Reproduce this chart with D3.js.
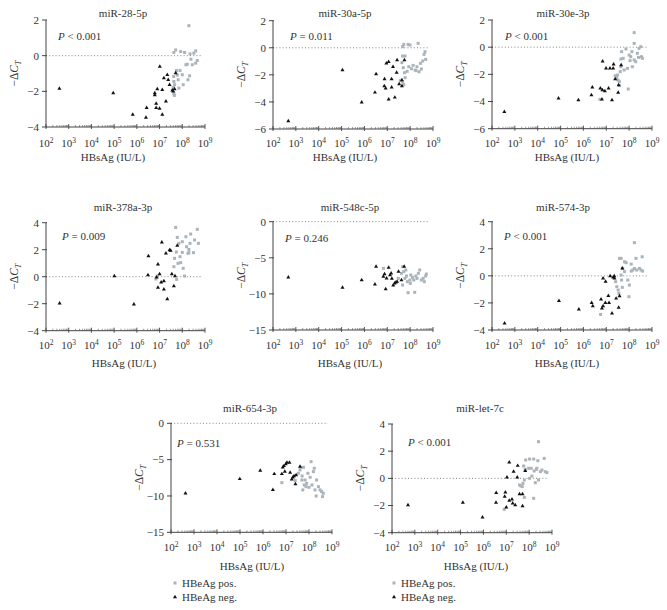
<!DOCTYPE html>
<html><head><meta charset="utf-8">
<script src="https://cdn.jsdelivr.net/npm/d3@7"></script>
<style>
body{margin:0;background:#fff;}
text{font-family:"Liberation Serif",Tinos,"Times New Roman",serif;fill:#333;}
</style>
</head><body>
<svg id="chart" width="667" height="610"></svg>
<script>
// ---------- DATA ----------
const titles = ["miR-28-5p","miR-30a-5p","miR-30e-3p","miR-378a-3p","miR-548c-5p","miR-574-3p","miR-654-3p","miR-let-7c"];
const pTexts = ["< 0.001","= 0.011","< 0.001","= 0.009","= 0.246","< 0.001","= 0.531","< 0.001"];
const yDomains = [[-4,2],[-6,2],[-6,2],[-4,4],[-15,0],[-4,4],[-15,0],[-4,4]];
const yTicks = [[-4,-2,0,2],[-6,-4,-2,0,2],[-6,-4,-2,0,2],[-4,-2,0,2,4],[-15,-10,-5,0],[-4,-2,0,2,4],[-15,-10,-5,0],[-4,-2,0,2,4]];
const xTickExps = [2,3,4,5,6,7,8,9];
const xLabel = "HBsAg (IU/L)";
const legendLabels = ["HBeAg pos.","HBeAg neg."];

// points: [log10 HBsAg (IU/L), -ΔCT]
const miR28_neg = [[2.59,-1.85],[4.96,-2.10],[5.82,-3.31],[6.40,-3.47],[6.43,-2.93],[6.79,-2.10],[6.79,-2.21],[6.90,-1.87],[6.85,-2.69],[6.85,-2.93],[7.00,-2.97],[7.01,-0.61],[7.12,-3.31],[7.12,-1.91],[7.19,-1.26],[7.28,-2.56],[7.34,-1.07],[7.38,-1.35],[7.44,-1.63],[7.56,-1.95],[7.60,-2.00],[7.71,-0.98],[7.66,-1.87]];
const miR28_pos = [[7.62,-1.17],[7.63,-1.45],[7.60,-1.78],[7.63,-2.13],[7.65,-2.23],[7.66,-1.63],[7.71,0.32],[7.63,0.18],[7.74,-0.83],[7.78,-1.09],[7.82,-1.35],[7.85,-1.82],[7.93,0.23],[7.90,-0.83],[8.00,-1.07],[8.04,-1.63],[8.10,0.18],[8.16,-0.51],[8.22,-0.48],[8.25,-1.35],[8.32,-1.13],[8.29,1.68],[8.34,0.10],[8.38,-0.20],[8.44,-0.51],[8.51,0.14],[8.59,0.27],[8.59,-0.42],[8.66,-0.27]];

const miR30a_neg = [[2.67,-5.41],[5.04,-1.65],[5.88,-4.03],[6.46,-3.30],[6.51,-1.94],[6.88,-2.31],[6.87,-2.83],[6.93,-3.00],[6.96,-1.15],[7.06,-1.03],[7.06,-3.81],[7.19,-2.31],[7.19,-2.93],[7.25,-1.40],[7.33,-3.67],[7.41,-1.84],[7.43,-0.91],[7.52,-2.68],[7.64,-2.83],[7.64,-2.38],[7.75,-0.91]];
const miR30a_pos = [[7.67,0.08],[7.72,0.25],[7.91,0.25],[7.99,0.20],[8.35,0.33],[7.67,-0.61],[7.78,-0.61],[7.64,-1.10],[7.70,-1.47],[7.75,-1.84],[7.78,-2.21],[7.67,-2.53],[7.72,-2.73],[7.57,-2.43],[7.94,-1.40],[8.06,-1.55],[8.13,-1.30],[8.22,-1.65],[8.30,-1.40],[8.39,-1.77],[8.45,-1.15],[8.55,-0.98],[8.61,-0.49],[8.65,-0.29],[8.68,-0.86],[8.49,-1.57],[7.87,-1.74],[8.26,-1.69]];

const miR30e_neg = [[2.54,-4.75],[4.91,-3.77],[5.78,-3.89],[6.35,-3.52],[6.39,-2.96],[6.74,-3.03],[6.84,-1.04],[6.83,-3.15],[6.81,-3.84],[6.94,-3.23],[6.99,-1.56],[7.10,-3.03],[7.16,-1.56],[7.25,-3.89],[7.30,-1.56],[7.32,-1.26],[7.39,-2.34],[7.52,-3.35],[7.54,-2.79],[7.65,-1.31]];
const miR30e_pos = [[6.72,-3.84],[7.39,-2.10],[7.45,-2.22],[7.51,-2.42],[7.57,-2.54],[7.57,-2.83],[7.49,-2.05],[7.61,-1.80],[7.64,-1.44],[7.64,-0.87],[7.67,-0.33],[7.74,-0.82],[7.78,-1.68],[7.86,-0.13],[7.93,-1.56],[7.96,-3.08],[8.00,-0.58],[8.04,-0.99],[8.07,-0.70],[8.12,-0.33],[8.14,-1.44],[8.22,0.28],[8.22,1.07],[8.22,-0.94],[8.29,-1.07],[8.41,-0.75],[8.43,-0.09],[8.51,0.04],[8.54,-0.70],[8.58,-0.82],[8.36,-0.45]];

const miR378a_neg = [[2.60,-1.98],[5.01,0.05],[5.87,-2.05],[6.49,0.12],[6.51,1.53],[6.87,-0.05],[6.93,0.91],[6.93,-0.81],[7.00,0.20],[7.07,-0.42],[7.10,2.54],[7.19,-0.32],[7.19,-0.94],[7.28,1.73],[7.34,-1.65],[7.44,1.98],[7.49,1.93],[7.54,0.20],[7.63,-0.69],[7.68,0.05],[7.78,2.30]];
const miR378a_pos = [[6.84,-0.17],[6.90,0.05],[7.71,3.65],[7.78,2.91],[7.74,1.83],[7.66,1.36],[7.63,0.74],[7.75,-0.20],[7.81,0.99],[7.85,2.47],[7.90,1.48],[7.93,1.04],[8.00,2.59],[8.00,1.80],[8.04,0.62],[8.10,0.05],[8.16,2.96],[8.19,2.22],[8.29,2.02],[8.29,1.78],[8.37,3.16],[8.34,2.47],[8.49,1.78],[8.54,2.72],[8.66,3.51],[8.71,2.47],[8.25,1.73]];

const miR548c_neg = [[2.67,-7.71],[5.04,-9.14],[5.88,-8.08],[6.46,-8.68],[6.51,-6.23],[6.83,-7.61],[6.88,-7.25],[6.93,-9.32],[6.97,-7.85],[7.06,-6.37],[7.12,-7.38],[7.17,-7.15],[7.20,-7.89],[7.26,-8.81],[7.32,-8.54],[7.38,-8.40],[7.43,-8.31],[7.49,-6.92],[7.62,-8.08],[7.74,-6.23]];
const miR548c_pos = [[6.83,-6.46],[7.48,-7.85],[7.62,-7.15],[7.67,-6.23],[7.72,-6.92],[7.77,-7.85],[7.84,-7.52],[7.88,-8.31],[7.91,-9.83],[7.99,-8.08],[8.03,-7.38],[8.10,-7.71],[8.16,-8.08],[8.20,-9.78],[8.25,-7.52],[8.30,-7.85],[8.36,-7.15],[8.42,-6.69],[8.49,-8.08],[8.57,-7.85],[8.62,-8.31],[8.68,-7.52],[8.71,-7.25],[8.01,-8.54],[7.67,-8.77],[7.81,-6.69]];

const miR574_neg = [[2.55,-3.51],[4.93,-1.84],[5.80,-2.48],[6.36,-1.99],[6.41,-2.23],[6.77,-1.74],[6.81,-2.40],[6.86,-2.23],[6.86,-0.19],[6.96,-1.99],[6.97,-0.43],[7.09,-1.47],[7.12,-1.99],[7.17,-0.01],[7.25,-2.77],[7.30,-0.11],[7.35,-0.01],[7.36,-0.19],[7.43,-1.67],[7.54,-2.35],[7.58,-1.49],[7.70,0.55]];
const miR574_pos = [[6.75,-2.85],[7.41,-0.43],[7.46,-0.80],[7.52,-1.05],[7.55,-1.30],[7.58,1.29],[7.65,1.29],[7.65,0.06],[7.67,-0.31],[7.72,0.55],[7.80,1.04],[7.80,0.31],[7.87,0.97],[7.94,-0.31],[7.99,-1.54],[8.01,-0.68],[8.09,0.87],[8.09,0.35],[8.16,0.43],[8.23,2.45],[8.23,0.55],[8.30,1.29],[8.33,0.43],[8.45,0.55],[8.52,0.43],[8.57,1.41],[8.59,0.35],[7.70,-0.85]];

const miR654_neg = [[2.63,-9.63],[4.99,-7.66],[5.88,-6.51],[6.43,-9.17],[6.49,-6.97],[6.82,-6.97],[6.86,-6.06],[6.91,-5.87],[6.95,-6.65],[6.99,-5.60],[7.04,-5.41],[7.15,-5.41],[7.18,-6.79],[7.25,-7.71],[7.30,-7.43],[7.35,-7.25],[7.44,-7.11],[7.41,-8.35],[7.61,-5.96]];
const miR654_pos = [[6.82,-8.17],[7.40,-7.89],[7.54,-6.88],[7.61,-6.42],[7.64,-6.06],[7.70,-7.25],[7.73,-9.17],[7.76,-6.06],[7.79,-8.49],[7.83,-7.80],[7.90,-8.26],[7.95,-6.88],[8.00,-8.81],[8.05,-7.43],[8.09,-5.28],[8.13,-8.49],[8.19,-6.65],[8.23,-6.19],[8.26,-9.17],[8.31,-10.0],[8.33,-7.80],[8.41,-8.72],[8.48,-9.17],[8.55,-9.40],[8.59,-10.09],[8.62,-9.63],[7.69,-7.80],[7.87,-8.72]];

const let7c_neg = [[2.70,-1.96],[5.10,-1.79],[5.96,-2.87],[6.56,-1.06],[6.55,-1.79],[6.93,-1.35],[6.96,-1.03],[7.00,-2.13],[7.03,0.07],[7.13,1.18],[7.13,-1.64],[7.25,-1.55],[7.28,-1.84],[7.32,0.49],[7.39,-1.96],[7.48,0.07],[7.50,0.93],[7.58,-1.15],[7.71,-1.15],[7.71,-2.04],[7.83,0.56]];
const let7c_pos = [[6.91,-2.28],[7.58,-0.49],[7.64,-0.56],[7.70,-0.61],[7.73,-0.37],[7.79,-0.12],[7.79,-1.40],[7.76,0.91],[7.83,0.66],[7.85,1.35],[7.98,0.74],[8.02,1.42],[8.02,0.00],[8.12,0.17],[8.20,1.42],[8.22,0.54],[8.27,-0.32],[8.31,0.66],[8.34,0.74],[8.38,1.30],[8.20,-1.47],[8.41,-0.12],[8.41,2.70],[8.49,0.49],[8.56,0.61],[8.66,1.47],[8.71,0.49],[8.78,0.42],[8.09,0.74]];

const posSeries = [miR28_pos,miR30a_pos,miR30e_pos,miR378a_pos,miR548c_pos,miR574_pos,miR654_pos,let7c_pos];
const negSeries = [miR28_neg,miR30a_neg,miR30e_neg,miR378a_neg,miR548c_neg,miR574_neg,miR654_neg,let7c_neg];

// ---------- LAYOUT ----------
const layout = [
  {L:46,  T:20,    W:159, H:107,   tx:123, xl:113, px:12, py:20, ty:17,  xb:161, tb:147},
  {L:273, T:20.7,  W:160, H:108.3, tx:345, xl:345, px:17, py:19, ty:17,  xb:161, tb:147},
  {L:492, T:20,    W:160, H:108.7, tx:563, xl:567, px:13, py:20, ty:17,  xb:161, tb:147},
  {L:46,  T:222.7, W:159, H:108,   tx:123, xl:124, px:16, py:17, ty:211, xb:367, tb:349},
  {L:273, T:221.7, W:160, H:108.3, tx:350, xl:350, px:12, py:20, ty:211, xb:367, tb:349},
  {L:492, T:221.7, W:160, H:108.3, tx:563, xl:567, px:12, py:18, ty:211, xb:367, tb:349},
  {L:171, T:423.3, W:161, H:109,   tx:250, xl:252, px:6,  py:24, ty:412, xb:570, tb:551},
  {L:392, T:424,   W:160, H:108.7, tx:480, xl:476, px:16, py:22, ty:412, xb:570, tb:551}
];
const posColor = "#aab4bb";
const negColor = "#111";
const fmt = v => v < 0 ? "\u2212" + Math.abs(v) : String(v);

const svg = d3.select("#chart");
const tri = d3.symbol().type(d3.symbolTriangle).size(7);

titles.forEach((title, i) => {
  const o = layout[i];
  const x = d3.scaleLog().domain([1e2, 1e9]).range([o.L, o.L + o.W]);
  const y = d3.scaleLinear().domain(yDomains[i]).range([o.T + o.H, o.T]);
  const g = svg.append("g");

  // dotted zero line
  g.append("line").attr("x1", o.L).attr("x2", o.L + o.W - 4)
    .attr("y1", y(0)).attr("y2", y(0))
    .attr("stroke", "#777").attr("stroke-width", 0.9).attr("stroke-dasharray", "1,2.2");

  // y axis
  g.append("line").attr("x1", o.L).attr("x2", o.L).attr("y1", o.T).attr("y2", o.T + o.H)
    .attr("stroke", "#444").attr("stroke-width", 1);
  yTicks[i].forEach(v => {
    g.append("line").attr("x1", o.L - 4).attr("x2", o.L + 1).attr("y1", y(v)).attr("y2", y(v))
      .attr("stroke", "#444").attr("stroke-width", 1);
    g.append("text").attr("x", o.L - 7).attr("y", y(v)).attr("dy", "0.35em")
      .attr("text-anchor", "end").attr("font-size", 11).text(fmt(v));
  });

  // x axis
  g.append("line").attr("x1", o.L).attr("x2", o.L + o.W).attr("y1", o.T + o.H).attr("y2", o.T + o.H)
    .attr("stroke", "#444").attr("stroke-width", 1);
  const minor = [];
  for (let e = 2; e < 9; e++) for (let m = 2; m <= 9; m++) minor.push(m * Math.pow(10, e));
  minor.forEach(v => {
    g.append("line").attr("x1", x(v)).attr("x2", x(v)).attr("y1", o.T + o.H).attr("y2", o.T + o.H - 2)
      .attr("stroke", "#555").attr("stroke-width", 0.6);
  });
  xTickExps.forEach(e => {
    const v = Math.pow(10, e);
    g.append("line").attr("x1", x(v)).attr("x2", x(v)).attr("y1", o.T + o.H - 3).attr("y2", o.T + o.H + 2)
      .attr("stroke", "#444").attr("stroke-width", 0.9);
    const t = g.append("text").attr("x", x(v)).attr("y", o.tb).attr("text-anchor", "middle").attr("font-size", 11);
    t.append("tspan").text("10");
    t.append("tspan").attr("dy", -4.5).attr("font-size", 7.5).text(String(e));
  });

  // titles & labels
  g.append("text").attr("x", o.tx).attr("y", o.ty).attr("text-anchor", "middle").attr("font-size", 11).text(title);
  g.append("text").attr("x", o.xl).attr("y", o.xb).attr("text-anchor", "middle").attr("font-size", 11).text(xLabel);
  const yl = g.append("text").attr("transform", `translate(${o.L - 28},${o.T + o.H / 2}) rotate(-90)`)
    .attr("text-anchor", "middle").attr("font-size", 11.5);
  yl.append("tspan").text("\u2212\u0394");
  yl.append("tspan").attr("font-style", "italic").text("C");
  yl.append("tspan").attr("font-style", "italic").attr("font-size", 8).attr("dy", 3).text("T");

  const pt = g.append("text").attr("x", o.L + o.px).attr("y", o.T + o.py).attr("font-size", 11);
  pt.append("tspan").attr("font-style", "italic").text("P");
  pt.append("tspan").text(" " + pTexts[i]);

  // points
  g.selectAll("rect.pos").data(posSeries[i]).enter().append("rect")
    .attr("x", d => x(Math.pow(10, d[0])) - 1.5).attr("y", d => y(d[1]) - 1.5)
    .attr("width", 3).attr("height", 3).attr("fill", posColor);
  g.selectAll("path.neg").data(negSeries[i]).enter().append("path")
    .attr("d", tri).attr("transform", d => `translate(${x(Math.pow(10, d[0]))},${y(d[1])})`)
    .attr("fill", negColor);
});

// legends
[{x:175, t:182}, {x:394, t:401}].forEach(p => {
  svg.append("rect").attr("x", p.x - 1.5).attr("y", 583 - 1.5).attr("width", 3).attr("height", 3).attr("fill", posColor);
  svg.append("text").attr("x", p.t).attr("y", 587).attr("font-size", 11).text(legendLabels[0]);
  svg.append("path").attr("d", tri).attr("transform", `translate(${p.x},597)`).attr("fill", negColor);
  svg.append("text").attr("x", p.t).attr("y", 601).attr("font-size", 11).text(legendLabels[1]);
});
</script>
</body></html>
